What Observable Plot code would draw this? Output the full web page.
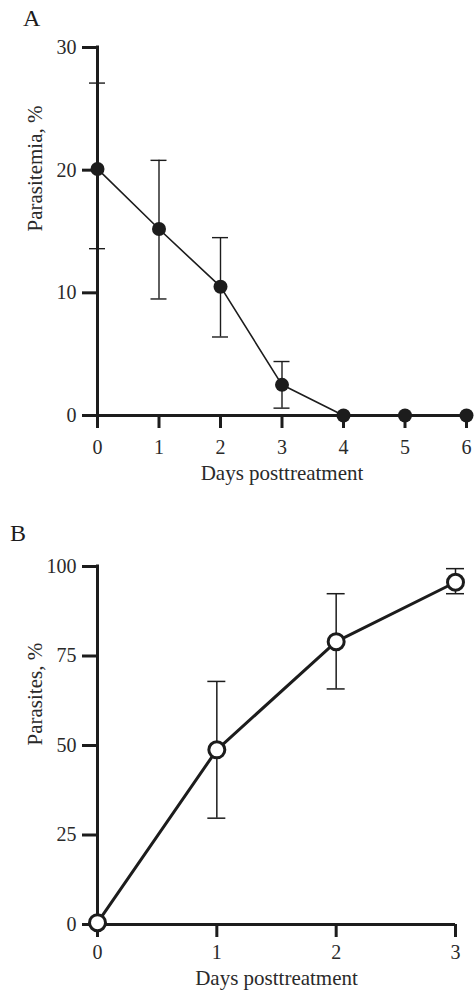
<!DOCTYPE html>
<html>
<head>
<meta charset="utf-8">
<script src="https://cdn.jsdelivr.net/npm/d3@7"></script>
<script src="https://cdn.jsdelivr.net/npm/@observablehq/plot@0.6"></script>
<style>
  body { margin: 0; background: #fff; }
  #wrap { position: relative; width: 474px; height: 991px; overflow: hidden; }
  .panel-label { position: absolute; font-family: "Liberation Serif", serif; font-size: 24px; line-height: 1; color: #1c1c1c; }
  .chart { position: absolute; left: 0; }
  .chart svg { display: block; }
</style>
</head>
<body>
<div id="wrap">
  <div id="chartA" class="chart" style="top:0"></div>
  <div id="chartB" class="chart" style="top:500px"></div>
  <div class="panel-label" style="left:23px; top:6px">A</div>
  <div class="panel-label" style="left:10px; top:521px">B</div>
</div>
<script>
// ---- Panel A data ----
const daysA = [0, 1, 2, 3, 4, 5, 6];
const parasitemiaMean  = [20.1, 15.2, 10.5, 2.5, 0, 0, 0];
const parasitemiaLower = [13.6, 9.5, 6.4, 0.6, null, null, null];
const parasitemiaUpper = [27.1, 20.8, 14.5, 4.4, null, null, null];
const yTicksA = [0, 10, 20, 30];
const xLabelA = "Days posttreatment";
const yLabelA = "Parasitemia, %";

// ---- Panel B data ----
const daysB = [0, 1, 2, 3];
const parasitesMean  = [0.5, 48.8, 79.0, 95.6];
const parasitesLower = [null, 29.7, 65.8, 92.4];
const parasitesUpper = [null, 67.9, 92.4, 99.4];
const yTicksB = [0, 25, 50, 75, 100];
const xLabelB = "Days posttreatment";
const yLabelB = "Parasites, %";

const INK = "#1c1c1c";
const TEXT = "#2a2a2a";
const FONT = '"Liberation Serif", "Times New Roman", serif';

const tableA = daysA.map((d, i) => ({day: d, mean: parasitemiaMean[i], lo: parasitemiaLower[i], hi: parasitemiaUpper[i]}));
const tableB = daysB.map((d, i) => ({day: d, mean: parasitesMean[i], lo: parasitesLower[i], hi: parasitesUpper[i]}));

function panel({table, days, yTicks, xLabel, yLabel, height, marginTop, marginBottom, marginRight,
                lineWidth, errWidth, capHalf, dotR, dotFill, dotStrokeWidth, xPad, xLabelDy}) {
  const err = table.filter(d => d.lo != null && d.hi != null);
  const yMax = yTicks[yTicks.length - 1];
  return Plot.plot({
    width: 474,
    height,
    marginTop,
    marginBottom,
    marginLeft: 97,
    marginRight,
    x: {domain: [days[0], days[days.length - 1]]},
    y: {domain: [yTicks[0], yMax]},
    style: {fontFamily: FONT, fontSize: "20px", color: INK, background: "white", overflow: "visible"},
    marks: [
      // axis lines
      Plot.ruleX([{x: days[0], y1: yTicks[0], y2: yMax}], {x: "x", y1: "y1", y2: "y2", stroke: INK, strokeWidth: 3, strokeLinecap: "square"}),
      Plot.ruleY([yTicks[0]], {stroke: INK, strokeWidth: 3}),
      Plot.axisY({ticks: yTicks, tickFormat: "d", tickSize: 15, tickPadding: 6, stroke: INK, strokeWidth: 3, label: null, fill: TEXT, fontSize: 20}),
      Plot.axisX({ticks: days, tickFormat: "d", tickSize: 13, tickPadding: xPad, stroke: INK, strokeWidth: 3, label: null, fill: TEXT, fontSize: 20}),
      // error bars
      Plot.ruleX(err, {x: "day", y1: "lo", y2: "hi", stroke: INK, strokeWidth: errWidth}),
      Plot.ruleY(err, {x1: "day", x2: "day", y: "hi", insetLeft: -capHalf, insetRight: -capHalf, stroke: INK, strokeWidth: errWidth}),
      Plot.ruleY(err, {x1: "day", x2: "day", y: "lo", insetLeft: -capHalf, insetRight: -capHalf, stroke: INK, strokeWidth: errWidth}),
      // series
      Plot.line(table, {x: "day", y: "mean", stroke: INK, strokeWidth: lineWidth}),
      Plot.dot(table, {x: "day", y: "mean", r: dotR, fill: dotFill, stroke: INK, strokeWidth: dotStrokeWidth}),
      // axis titles
      Plot.text([xLabel], {text: d => d, frameAnchor: "bottom", lineAnchor: "top", dy: xLabelDy, fontSize: 21, fill: TEXT}),
      Plot.text([yLabel], {text: d => d, frameAnchor: "left", rotate: -90, lineAnchor: "top", dx: -70, fontSize: 21, fill: TEXT})
    ]
  });
}

document.getElementById("chartA").append(panel({
  table: tableA, days: daysA, yTicks: yTicksA, xLabel: xLabelA, yLabel: yLabelA,
  height: 500, marginTop: 47, marginBottom: 85, marginRight: 8,
  lineWidth: 1.6, errWidth: 1.4, capHalf: 8, dotR: 7, dotFill: INK, dotStrokeWidth: 0, xPad: 11, xLabelDy: 50
}));

document.getElementById("chartB").append(panel({
  table: tableB, days: daysB, yTicks: yTicksB, xLabel: xLabelB, yLabel: yLabelB,
  height: 491, marginTop: 66, marginBottom: 67, marginRight: 19,
  lineWidth: 3, errWidth: 1.5, capHalf: 9, dotR: 8, dotFill: "white", dotStrokeWidth: 3, xPad: 7, xLabelDy: 46
}));
</script>
</body>
</html>
